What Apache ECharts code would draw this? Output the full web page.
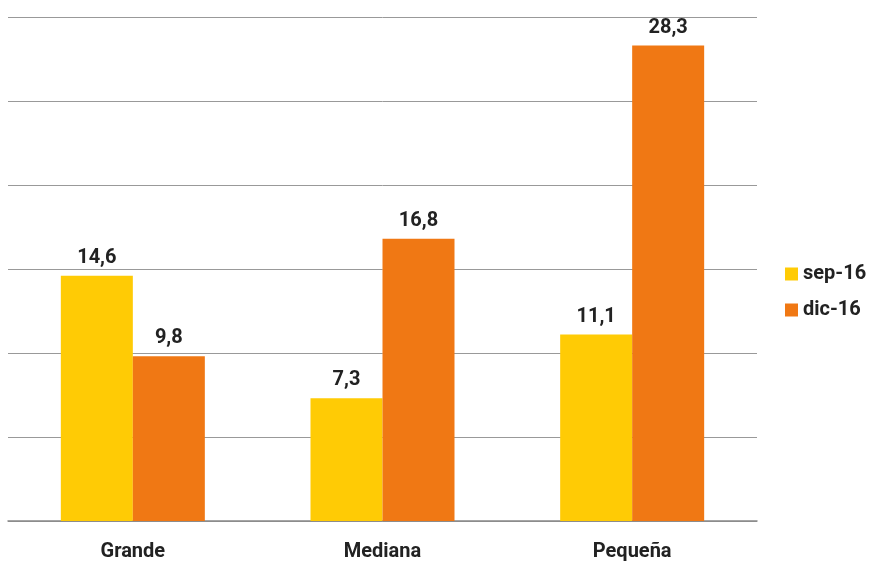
<!DOCTYPE html>
<html><head><meta charset="utf-8">
<script src="https://cdn.jsdelivr.net/npm/echarts@6/dist/echarts.min.js"></script>
<style>html,body{margin:0;padding:0;background:#fff}#c{width:874px;height:564px}</style>
</head><body><div id="c"></div>
<script>
const categories = ['Grande', 'Mediana', 'Pequeña'];
const sep16 = [14.6, 7.3, 11.1];
const dic16 = [9.8, 16.8, 28.3];
const seriesNames = ['sep-16', 'dic-16'];
const FONT = "Roboto, sans-serif";
const chart = echarts.init(document.getElementById('c'));
const lbl = {show:true, position:'top', distance:8, formatter:p=>p.value.toFixed(1).replace('.',','), fontFamily:FONT, fontSize:20, fontWeight:'bold', color:'#222'};
chart.setOption({
  animation:false,
  grid:{left:8, right:117, top:17, bottom:43},
  legend:{orient:'vertical', left:780, top:259, itemWidth:13, itemHeight:13, itemGap:16, icon:'rect',
    textStyle:{fontFamily:FONT, fontSize:20, fontWeight:'bold', color:'#222'}, data:seriesNames},
  xAxis:{type:'category', data:categories, axisTick:{show:false},
    axisLine:{lineStyle:{color:'#888', width:1.5}},
    axisLabel:{fontFamily:FONT, fontSize:20, fontWeight:'bold', color:'#222', margin:21}},
  yAxis:{type:'value', min:0, max:30, interval:5, axisLabel:{show:false},
    splitLine:{lineStyle:{color:'#999', width:1}}},
  series:[
    {name:seriesNames[0], type:'bar', data:sep16, barWidth:72, barGap:'0%', itemStyle:{color:'#FFCB05'}, label:lbl},
    {name:seriesNames[1], type:'bar', data:dic16, barWidth:72, barGap:'0%', itemStyle:{color:'#F07814'}, label:lbl}
  ]
});
</script></body></html>
